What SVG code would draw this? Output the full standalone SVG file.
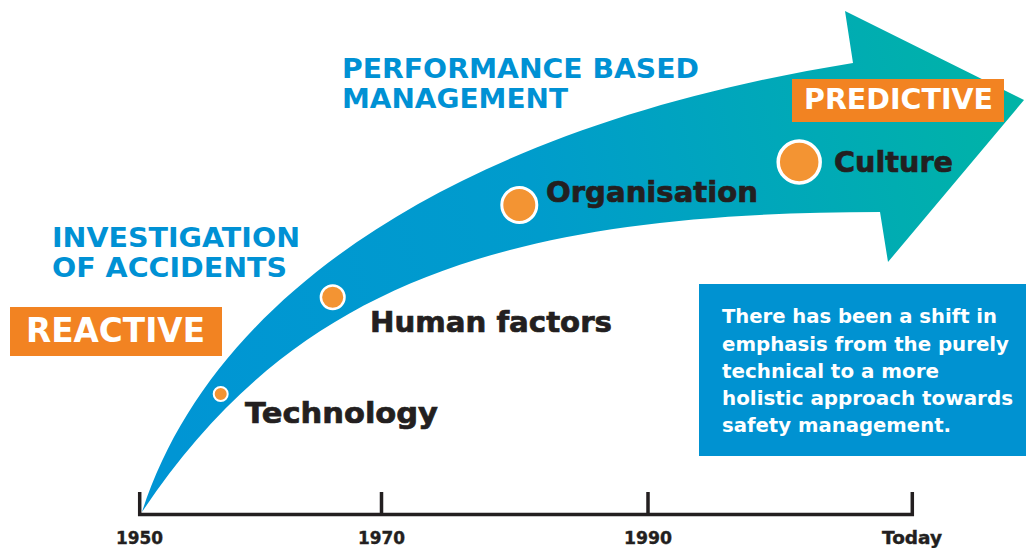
<svg xmlns="http://www.w3.org/2000/svg" width="1026" height="548" viewBox="0 0 1026 548">
  <defs>
    <linearGradient id="arrowGrad" gradientUnits="userSpaceOnUse" x1="140" y1="300" x2="1024" y2="100">
      <stop offset="0" stop-color="#0095D4"/>
      <stop offset="0.45" stop-color="#009CCC"/>
      <stop offset="1" stop-color="#00B4A6"/>
    </linearGradient>
    <style>
      .dot { fill: #F39433; stroke: #FFFFFF; }
      .lbl { font-family: "DejaVu Sans", "Liberation Sans", sans-serif; font-weight: bold; fill: #231F20; stroke: #231F20; stroke-width: 0.7; }
      .phase { font-family: "DejaVu Sans", "Liberation Sans", sans-serif; font-weight: bold; fill: #0091D4; font-size: 27px; }
      .tag { fill: #F28322; }
      .tagtxt { font-family: "DejaVu Sans", "Liberation Sans", sans-serif; font-weight: bold; fill: #FFFFFF; }
      .note { font-family: "DejaVu Sans", "Liberation Sans", sans-serif; font-weight: bold; fill: #FFFFFF; font-size: 20px; }
      .axis { stroke: #231F20; stroke-width: 3.5; fill: none; stroke-linecap: butt; }
      .year { font-family: "DejaVu Sans", "Liberation Sans", sans-serif; font-weight: bold; fill: #231F20; font-size: 17px; stroke: #231F20; stroke-width: 0.4; }
    </style>
  </defs>
  <rect width="1026" height="548" fill="#FFFFFF"/>

  <g id="connectors">
    <path id="arrow" d="M142,512 C213.4,291 462.4,126 853,63 L845,11 L1024,100 L888,262 L880,212 C500,212 292,287 142,512 Z" fill="url(#arrowGrad)"/>
  </g>

  <g id="axis">
    <path class="axis" d="M138,514.5 H914 M139.7,492 V516 M381.5,492 V516 M648,492 V516 M912.3,492 V516"/>
    <text class="year" x="116" y="544" textLength="47" lengthAdjust="spacingAndGlyphs">1950</text>
    <text class="year" x="358" y="544" textLength="47" lengthAdjust="spacingAndGlyphs">1970</text>
    <text class="year" x="624" y="544" textLength="48" lengthAdjust="spacingAndGlyphs">1990</text>
    <text class="year" x="882" y="544" textLength="60" lengthAdjust="spacingAndGlyphs">Today</text>
  </g>

  <g id="phase-investigation">
    <text class="phase" x="52" y="247" textLength="248" lengthAdjust="spacingAndGlyphs">INVESTIGATION</text>
    <text class="phase" x="52" y="277" textLength="235" lengthAdjust="spacingAndGlyphs">OF ACCIDENTS</text>
  </g>

  <g id="phase-performance">
    <text class="phase" x="342" y="78" textLength="357" lengthAdjust="spacingAndGlyphs">PERFORMANCE BASED</text>
    <text class="phase" x="342" y="108" textLength="226" lengthAdjust="spacingAndGlyphs">MANAGEMENT</text>
  </g>

  <g id="tag-reactive">
    <rect class="tag" x="10" y="307" width="212" height="49"/>
    <text class="tagtxt" x="26" y="342" font-size="33" textLength="179" lengthAdjust="spacingAndGlyphs">REACTIVE</text>
  </g>

  <g id="tag-predictive">
    <rect class="tag" x="792" y="79" width="212" height="43"/>
    <text class="tagtxt" x="804" y="109" font-size="28" textLength="189" lengthAdjust="spacingAndGlyphs">PREDICTIVE</text>
  </g>

  <g id="node-technology">
    <circle class="dot" cx="220.7" cy="394" r="7" stroke-width="2"/>
    <text class="lbl" x="245" y="423" font-size="29" textLength="193" lengthAdjust="spacingAndGlyphs">Technology</text>
  </g>

  <g id="node-human-factors">
    <circle class="dot" cx="332.7" cy="297.3" r="11.8" stroke-width="2.5"/>
    <text class="lbl" x="370" y="332" font-size="29" textLength="242" lengthAdjust="spacingAndGlyphs">Human factors</text>
  </g>

  <g id="node-organisation">
    <circle class="dot" cx="519.3" cy="205" r="17.5" stroke-width="3"/>
    <text class="lbl" x="546" y="202" font-size="29" textLength="212" lengthAdjust="spacingAndGlyphs">Organisation</text>
  </g>

  <g id="node-culture">
    <circle class="dot" cx="799.2" cy="162" r="21" stroke-width="3.5"/>
    <text class="lbl" x="834" y="172" font-size="29" textLength="119" lengthAdjust="spacingAndGlyphs">Culture</text>
  </g>

  <g id="note-box">
    <rect x="699" y="284" width="327" height="172" fill="#0092D1"/>
    <text class="note" x="722" y="323" textLength="275" lengthAdjust="spacingAndGlyphs">There has been a shift in</text>
    <text class="note" x="722" y="351" textLength="287" lengthAdjust="spacingAndGlyphs">emphasis from the purely</text>
    <text class="note" x="722" y="378" textLength="217" lengthAdjust="spacingAndGlyphs">technical to a more</text>
    <text class="note" x="722" y="405" textLength="291" lengthAdjust="spacingAndGlyphs">holistic approach towards</text>
    <text class="note" x="722" y="432" textLength="229" lengthAdjust="spacingAndGlyphs">safety management.</text>
  </g>
</svg>
